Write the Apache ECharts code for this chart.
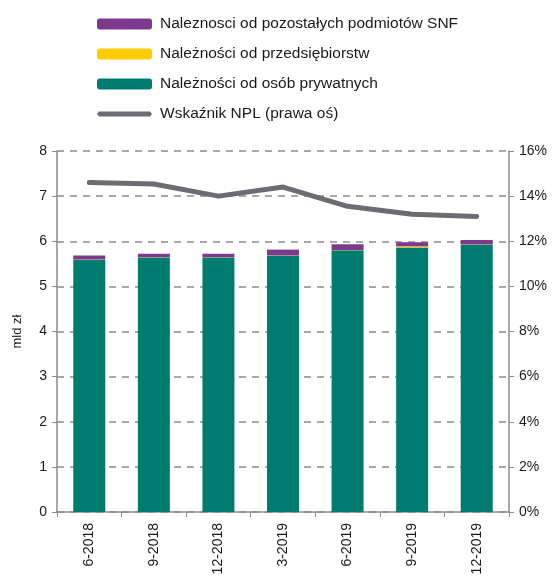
<!DOCTYPE html>
<html>
<head>
<meta charset="utf-8">
<script src="https://cdn.jsdelivr.net/npm/echarts@6/dist/echarts.min.js"></script>
<style>
  html, body { margin: 0; padding: 0; background: #fff; }
  #chart { width: 559px; height: 576px; }
</style>
</head>
<body>
<div id="chart"></div>
<script>
  const categories = ["6-2018", "9-2018", "12-2018", "3-2019", "6-2019", "9-2019", "12-2019"];

  // mld zl
  const privatePersons = [5.59, 5.64, 5.64, 5.68, 5.80, 5.86, 5.93];
  const enterprises = [0.005, 0.005, 0.005, 0.005, 0.005, 0.03, 0.005];
  const otherSnf = [0.09, 0.08, 0.08, 0.13, 0.13, 0.09, 0.09];
  // % (right axis)
  const nplRatio = [14.6, 14.54, 14.0, 14.4, 13.55, 13.2, 13.1];

  const leftTicks = { min: 0, max: 8, interval: 1 };
  const rightTicks = { min: 0, max: 16, interval: 2 };

  const names = {
    other: "Naleznosci od pozostałych podmiotów SNF",
    ent: "Należności od przedsiębiorstw",
    priv: "Należności od osób prywatnych",
    npl: "Wskaźnik NPL (prawa oś)",
  };

  const font = "Liberation Sans, Arial, sans-serif";
  const axisGray = "#8c8c8c";
  const lineGray = "#6d6c72";

  // thin bar centred in the 55x11 legend box (moveTo points keep the full height)
  const thinBarIcon = "path://M0 0M0 5.5L2 3L53 3L55 5.5L53 8L2 8ZM0 11";

  const chart = echarts.init(document.getElementById("chart"));
  chart.setOption({
    animation: false,
    textStyle: { fontFamily: font },
    grid: { left: 57, right: 50, top: 151, bottom: 64, outerBoundsMode: "none" },
    legend: {
      orient: "vertical",
      left: 92,
      top: 11,
      itemWidth: 55,
      itemHeight: 11,
      itemGap: 14,
      textStyle: {
        fontFamily: font,
        fontSize: 15.5,
        color: "#1a1a1a",
        padding: [0, 0, 0, 3],
      },
      data: [
        { name: names.other, icon: "roundRect" },
        { name: names.ent, icon: "roundRect" },
        { name: names.priv, icon: "roundRect" },
        { name: names.npl, icon: thinBarIcon, itemStyle: { color: lineGray } },
      ],
    },
    xAxis: {
      type: "category",
      data: categories,
      axisLine: { lineStyle: { color: axisGray, width: 1.5 } },
      axisTick: { show: true, interval: 0, length: 5, lineStyle: { color: axisGray } },
      axisLabel: {
        rotate: 90,
        interval: 0,
        margin: 11,
        fontSize: 14,
        color: "#1a1a1a",
        fontFamily: font,
      },
    },
    yAxis: [
      {
        type: "value",
        ...leftTicks,
        name: "mld zł",
        nameLocation: "middle",
        nameGap: 33,
        nameTextStyle: { fontSize: 13, color: "#1a1a1a", fontFamily: font },
        axisLine: { show: true, lineStyle: { color: axisGray, width: 1.5 } },
        axisTick: { show: true, length: 5, lineStyle: { color: axisGray } },
        axisLabel: { fontSize: 14, color: "#1a1a1a", margin: 10, fontFamily: font },
        splitLine: {
          show: true,
          lineStyle: { color: "#8c8c8c", type: [7, 6], width: 1.5 },
        },
      },
      {
        type: "value",
        ...rightTicks,
        position: "right",
        axisLine: { show: true, lineStyle: { color: axisGray, width: 1.5 } },
        axisTick: { show: true, length: 5, lineStyle: { color: axisGray } },
        axisLabel: {
          fontSize: 14,
          color: "#1a1a1a",
          margin: 10,
          fontFamily: font,
          formatter: "{value}%",
        },
        splitLine: { show: false },
      },
    ],
    series: [
      {
        name: names.priv,
        type: "bar",
        stack: "total",
        barWidth: 32,
        data: privatePersons,
        itemStyle: { color: "#007b6f" },
      },
      {
        name: names.ent,
        type: "bar",
        stack: "total",
        barWidth: 32,
        data: enterprises,
        itemStyle: { color: "#ffcc00" },
      },
      {
        name: names.other,
        type: "bar",
        stack: "total",
        barWidth: 32,
        data: otherSnf,
        itemStyle: { color: "#7d3a8c" },
      },
      {
        name: names.npl,
        type: "line",
        yAxisIndex: 1,
        data: nplRatio,
        symbol: "none",
        lineStyle: { color: lineGray, width: 5, cap: "round", join: "round" },
        itemStyle: { color: lineGray },
      },
    ],
  });
</script>
</body>
</html>
